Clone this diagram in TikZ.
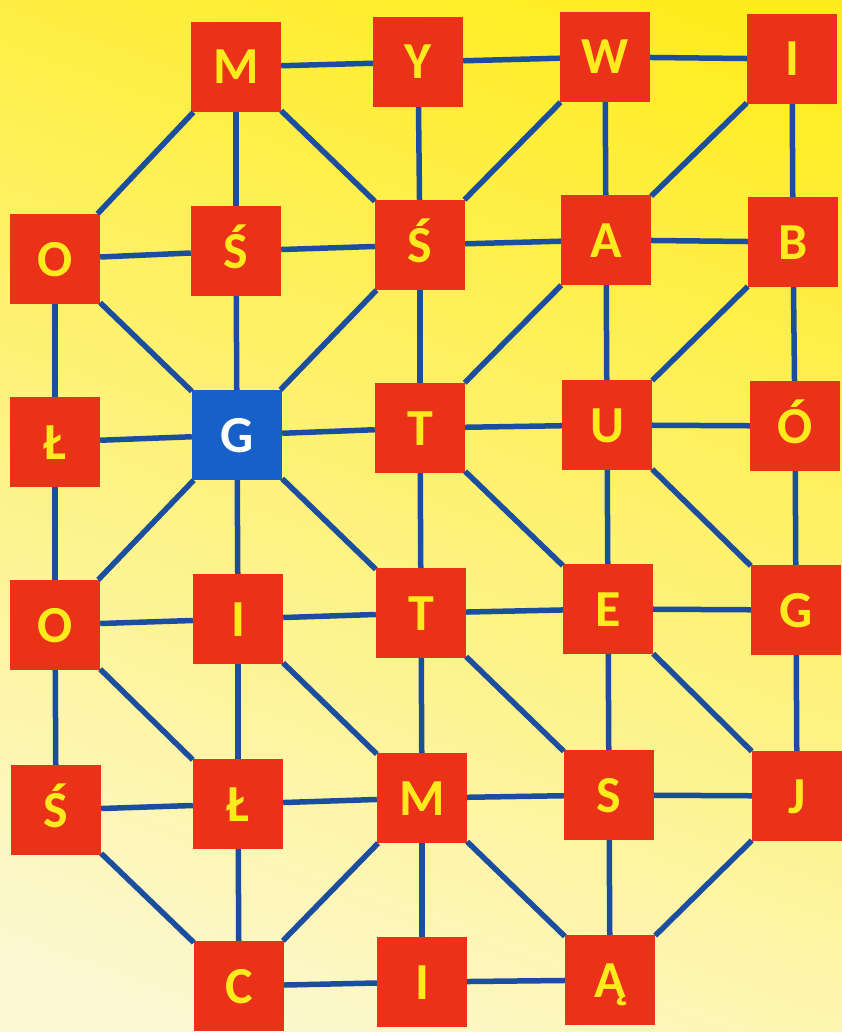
\documentclass[tikz,border=0pt]{standalone}
\usepackage{fontspec}
\setmainfont{Carlito}
\definecolor{boxred}{RGB}{234,50,24}
\definecolor{letter}{RGB}{255,234,30}
\definecolor{gblue}{RGB}{22,96,200}
\definecolor{lineblue}{RGB}{28,78,160}
\definecolor{bgtop}{RGB}{255,236,30}
\definecolor{bgmid}{RGB}{250,244,175}
\definecolor{bgbot}{RGB}{252,248,212}
\begin{document}
\begin{tikzpicture}[x=1pt,y=-1pt,
  tile/.style={fill=boxred, minimum size=90pt, inner sep=0pt, text=letter,
    font=\fontsize{52}{52}\selectfont\bfseries, text height=34pt, text depth=0pt},
  gtile/.style={tile, fill=gblue, text=white},
  link/.style={draw=lineblue, line width=5.5pt}]
\useasboundingbox (0,0) rectangle (842,1032);
\shade[top color=bgtop, middle color=bgmid, bottom color=bgbot, shading angle=-20] (-80,-80) rectangle (922,1112);
% row 0
\node[tile] (M0) at (236,67) {M};
\node[tile] (Y0) at (418,62) {Y};
\node[tile] (W0) at (605,57) {W};
\node[tile] (I0) at (792,59) {I};
% row 1
\node[tile] (O1) at (55,259) {O};
\node[tile] (S1) at (236,251) {Ś};
\node[tile] (S2) at (420,245) {Ś};
\node[tile] (A1) at (606,240) {A};
\node[tile] (B1) at (793,242) {B};
% row 2
\node[tile] (L2) at (55,442) {Ł};
\node[gtile] (G2) at (237,435) {G};
\node[tile] (T2) at (420,428) {T};
\node[tile] (U2) at (607,425) {U};
\node[tile] (OO2) at (795,426) {Ó};
% row 3
\node[tile] (O3) at (55,625) {O};
\node[tile] (I3) at (238,619) {I};
\node[tile] (T3) at (421,613) {T};
\node[tile] (E3) at (608,609) {E};
\node[tile] (G3) at (796,610) {G};
% row 4
\node[tile] (S4) at (56,810) {Ś};
\node[tile] (L4) at (238,804) {Ł};
\node[tile] (M4) at (422,798) {M};
\node[tile] (S5) at (609,795) {S};
\node[tile] (J4) at (797,796) {J};
% row 5
\node[tile] (C5) at (239,986) {C};
\node[tile] (I5) at (422,982) {I};
\node[tile] (A5) at (610,980) {Ą};
% horizontal links
\foreach \a/\b in {M0/Y0, Y0/W0, W0/I0, O1/S1, S1/S2, S2/A1, A1/B1,
  L2/G2, G2/T2, T2/U2, U2/OO2, O3/I3, I3/T3, T3/E3, E3/G3,
  S4/L4, L4/M4, M4/S5, S5/J4, C5/I5, I5/A5}
  \draw[link] (\a) -- (\b);
% vertical links
\foreach \a/\b in {M0/S1, S1/G2, G2/I3, I3/L4, L4/C5,
  O1/L2, L2/O3, O3/S4,
  Y0/S2, S2/T2, T2/T3, T3/M4, M4/I5,
  W0/A1, A1/U2, U2/E3, E3/S5, S5/A5,
  I0/B1, B1/OO2, OO2/G3, G3/J4}
  \draw[link] (\a) -- (\b);
% diagonal links
\foreach \a/\b in {M0/O1, M0/S2, W0/S2, I0/A1, O1/G2, S2/G2, A1/T2, B1/U2,
  G2/O3, G2/T3, T2/E3, U2/G3, O3/L4, I3/M4, T3/S5, E3/J4,
  S4/C5, M4/C5, M4/A5, J4/A5}
  \draw[link] (\a) -- (\b);
\end{tikzpicture}
\end{document}
